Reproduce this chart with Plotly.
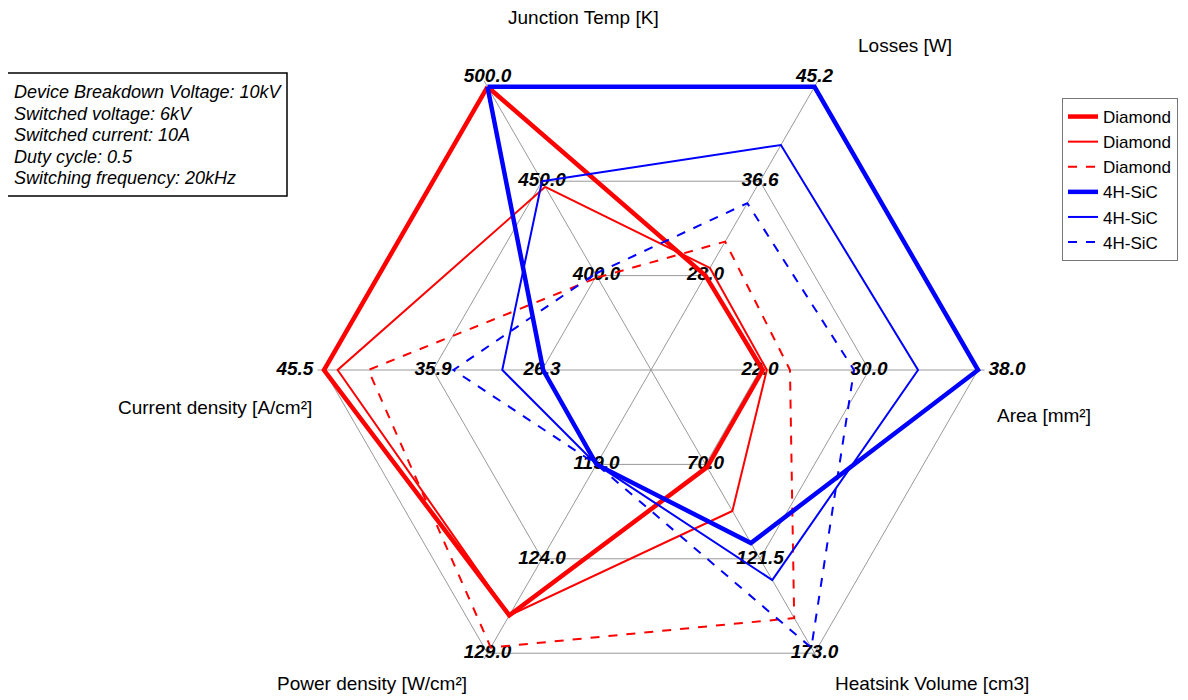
import plotly.graph_objects as go

# ---------------- data ----------------
axes = ["Junction Temp [K]", "Losses [W]", "Area [mm²]",
        "Heatsink Volume [cm3]", "Power density [W/cm²]", "Current density [A/cm²]"]

ticks_jt = [400.0, 450.0, 500.0]
ticks_losses = [28.0, 36.6, 45.2]
ticks_area = [22.0, 30.0, 38.0]
ticks_heatsink = [70.0, 121.5, 173.0]
ticks_power = [119.0, 124.0, 129.0]
ticks_current = [26.3, 35.9, 45.5]
axis_ticks = [ticks_jt, ticks_losses, ticks_area, ticks_heatsink, ticks_power, ticks_current]

# values ordered as in `axes`
diamond_thick = [500.0, 28.0, 22.2, 71.5, 127.0, 45.5]
diamond_thin = [447.0, 28.7, 22.5, 95.4, 127.0, 44.3]
diamond_dash = [399.0, 31.1, 24.2, 153.8, 128.7, 41.6]
sic_thick = [500.0, 45.2, 38.0, 112.9, 119.0, 26.2]
sic_thin = [450.0, 39.9, 33.6, 133.1, 119.0, 29.8]
sic_dash = [401.0, 34.6, 28.9, 170.0, 119.0, 34.1]

info_lines = ["Device Breakdown Voltage: 10kV", "Switched voltage: 6kV",
              "Switched current: 10A", "Duty cycle: 0.5", "Switching frequency: 20kHz"]

# ---------------- layout helpers ----------------
OFF = 8                      # default page body margin
W, H = 1188 - OFF, 720 - OFF
CX, CY, R = 651, 370, 327    # screen coordinates of the chart centre / radius
EXT = 1.02                   # radial range slightly larger so edge lines are not clipped
FONT = "Liberation Sans, Arial, sans-serif"
NB = "\u00a0\u00a0"


def px(x):
    return (x - OFF) / W


def py(y):
    return 1 - (y - OFF) / H


def norm(vals):
    out = []
    for v, t in zip(vals, axis_ticks):
        lo = t[0] - (t[1] - t[0])
        hi = t[2]
        out.append((v - lo) / (hi - lo))
    return out


def closed(lst):
    return list(lst) + [lst[0]]


fig = go.Figure()

# tick labels (text) drawn through the polar scale
tr, tt, txt, tpos = [], [], [], []
for i, (name, t) in enumerate(zip(axes, axis_ticks)):
    lo = t[0] - (t[1] - t[0])
    for k, v in enumerate(t):
        tr.append((v - lo) / (t[2] - lo))
        tt.append(name)
        label = f"{v:.1f}"
        pos = "middle center"
        if k == 2:
            if i in (0, 1):
                pos = "top center"
            elif i == 2:
                pos = "middle right"
                label = NB + label
            elif i == 5:
                pos = "middle left"
                label = label + NB
        txt.append(label)
        tpos.append(pos)

fig.add_trace(go.Scatterpolar(
    r=tr, theta=tt, text=txt, mode="text", textposition=tpos, cliponaxis=False,
    textfont=dict(family=FONT, size=19, color="black", weight="bold", style="italic"),
    showlegend=False, hoverinfo="skip"))

series = [
    ("Diamond", diamond_thick, "#ff0000", 4.5, "solid"),
    ("Diamond", diamond_thin, "#ff0000", 2, "solid"),
    ("Diamond", diamond_dash, "#ff0000", 2, "dash"),
    ("4H-SiC", sic_thick, "#0000ff", 4.5, "solid"),
    ("4H-SiC", sic_thin, "#0000ff", 2, "solid"),
    ("4H-SiC", sic_dash, "#0000ff", 2, "dash"),
]
for name, vals, col, w, dash in series:
    fig.add_trace(go.Scatterpolar(
        r=closed(norm(vals)), theta=closed(axes), mode="lines", name=name,
        line=dict(color=col, width=w, dash=dash), hoverinfo="skip"))

# axis names
axis_label_pos = [(583, 18), (905, 45), (1044, 415), (932, 683), (372, 683), (215, 407)]
for name, (x, y) in zip(axes, axis_label_pos):
    fig.add_annotation(x=px(x), y=py(y), xref="paper", yref="paper", text=name,
                       showarrow=False, xanchor="center", yanchor="middle",
                       font=dict(family=FONT, size=19, color="black"))

# info box
fig.add_shape(type="rect", xref="paper", yref="paper",
              x0=px(7), x1=px(287), y0=py(196), y1=py(73),
              line=dict(color="black", width=1.5), fillcolor="white", layer="below")
for k, line in enumerate(info_lines):
    fig.add_annotation(x=px(12), y=py(92 + k * 21.5), xref="paper", yref="paper",
                       text=f"<i>{line}</i>", showarrow=False, xanchor="left", yanchor="middle",
                       font=dict(family=FONT, size=18, color="black"))

RD = R * EXT
fig.update_layout(
    width=W, height=H,
    margin=dict(l=0, r=0, t=0, b=0),
    paper_bgcolor="white",
    plot_bgcolor="white",
    polar=dict(
        domain=dict(x=[px(CX - RD), px(CX + RD)], y=[py(CY + RD), py(CY - RD)]),
        gridshape="linear",
        bgcolor="white",
        radialaxis=dict(range=[0, EXT], tickvals=[1 / 3, 2 / 3, 1], showticklabels=False,
                        showline=False, ticks="", gridcolor="#999999", gridwidth=1),
        angularaxis=dict(type="category", categoryarray=axes, rotation=120,
                         direction="clockwise", showticklabels=False, ticks="",
                         gridcolor="#999999", gridwidth=1, showline=False),
    ),
    legend=dict(x=px(1062), y=py(98), xanchor="left", yanchor="top",
                bordercolor="#777777", borderwidth=1, bgcolor="white",
                font=dict(family=FONT, size=17, color="black"),
                tracegroupgap=0, itemwidth=30),
)

fig.write_html("out.html")
